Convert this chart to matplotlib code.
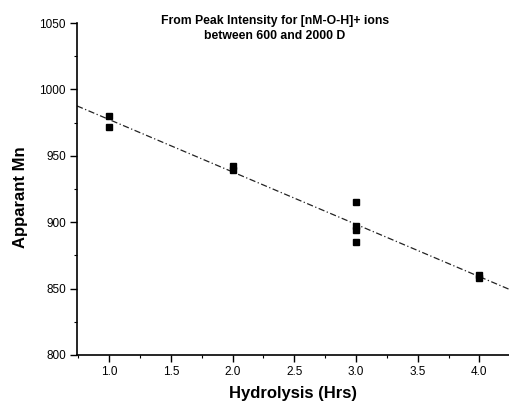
import numpy as np
import matplotlib
matplotlib.use('Agg')
import matplotlib.pyplot as plt
from matplotlib.ticker import MultipleLocator

plt.rcParams['font.family'] = ['Liberation Sans', 'DejaVu Sans']

# Hydrolysis time (hrs) and apparent Mn
hours = [1.0, 1.0, 2.0, 2.0, 3.0, 3.0, 3.0, 3.0, 4.0, 4.0]
apparent_mn = [980, 972, 942, 939, 915, 897, 894, 885, 860, 858]

fig = plt.figure(figsize=(5.1, 4.08), dpi=100)
ax = fig.add_axes([0.151, 0.130, 0.847, 0.8136])

# least squares line over the full x range
slope, intercept = np.polyfit(hours, apparent_mn, 1)
xfit = np.array([0.74, 4.24])
ax.plot(xfit, slope * xfit + intercept, color='#222222', lw=0.9,
        dashes=(5, 2, 1, 2))

ax.plot(hours, apparent_mn, 's', color='black', markersize=4.6)

ax.set_xlim(0.74, 4.24)
ax.set_ylim(800, 1050)
ax.xaxis.set_major_locator(MultipleLocator(0.5))
ax.xaxis.set_minor_locator(MultipleLocator(0.25))
ax.yaxis.set_major_locator(MultipleLocator(50))
ax.yaxis.set_minor_locator(MultipleLocator(25))
ax.set_xticks([1.0, 1.5, 2.0, 2.5, 3.0, 3.5, 4.0])
ax.set_xticklabels(['1.0', '1.5', '2.0', '2.5', '3.0', '3.5', '4.0'])

for s in ['top', 'right']:
    ax.spines[s].set_visible(False)
for s in ['left', 'bottom']:
    ax.spines[s].set_linewidth(1.2)

ax.tick_params(which='major', direction='out', length=5, width=1.0,
               labelsize=8.5, pad=3)
ax.tick_params(which='minor', direction='out', length=2.5, width=0.8)

ax.set_xlabel('Hydrolysis (Hrs)', fontsize=12, fontweight='bold', labelpad=6)
ax.set_ylabel('Apparant Mn', fontsize=12, fontweight='bold')
ax.yaxis.set_label_coords(-0.113, 0.475)

fig.text(0.539, 0.931, 'From Peak Intensity for [nM-O-H]+ ions\nbetween 600 and 2000 D',
         ha='center', va='center', fontsize=8.8, fontweight='bold',
         linespacing=1.3)

fig.savefig('out.png', dpi=100)
